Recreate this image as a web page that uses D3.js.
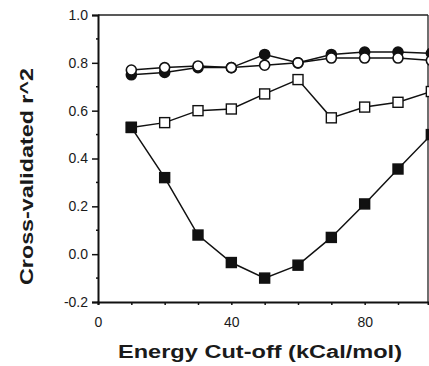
<!DOCTYPE html>
<html>
<head>
<meta charset="utf-8">
<script src="https://cdn.jsdelivr.net/npm/d3@7"></script>
<style>
  body { margin: 0; background: #fff; }
  text { font-family: "Liberation Sans", Arial, sans-serif; fill: #1a1a1a; }
</style>
</head>
<body>
<svg id="chart"></svg>
<script>
// energy cut-off values (kCal/mol)
const cutoffs = [10, 20, 30, 40, 50, 60, 70, 80, 90, 100];
// cross-validated r^2 for each series
const filledCircles = [0.75, 0.76, 0.78, 0.78, 0.835, 0.80, 0.835, 0.845, 0.845, 0.84];
const openCircles = [0.77, 0.78, 0.787, 0.78, 0.79, 0.80, 0.82, 0.82, 0.82, 0.81];
const openSquares = [0.53, 0.55, 0.60, 0.607, 0.67, 0.73, 0.57, 0.615, 0.635, 0.68];
const filledSquares = [0.53, 0.32, 0.08, -0.035, -0.10, -0.046, 0.07, 0.21, 0.356, 0.50];
const yTicks = [-0.2, 0.0, 0.2, 0.4, 0.6, 0.8, 1.0];
const xTickLabels = [0, 40, 80];

const svgWidth = 429, svgHeight = 366;
const svg = d3.select("#chart").attr("width", svgWidth).attr("height", svgHeight);

const x = d3.scaleLinear().domain([0, 99]).range([98, 428]);
const y = d3.scaleLinear().domain([-0.2, 1.0]).range([302, 15]);

// frame top and right
svg.append("line")
    .attr("x1", x(0)).attr("x2", x(99))
    .attr("y1", y(1.0)).attr("y2", y(1.0))
    .attr("stroke", "#222").attr("stroke-width", 1.3);
svg.append("line")
    .attr("x1", x(99)).attr("x2", x(99))
    .attr("y1", y(1.0)).attr("y2", y(-0.2))
    .attr("stroke", "#222").attr("stroke-width", 1.3);

// y axis (hyphen for minus, like the original)
const fmt = d => d3.format(".1f")(d).replace("−", "-");
const yAxis = svg.append("g")
    .attr("transform", "translate(" + x(0) + ",0)")
    .call(d3.axisLeft(y).tickValues(yTicks).tickSize(6).tickPadding(4).tickFormat(fmt));
yAxis.select(".domain").attr("stroke", "#111").attr("stroke-width", 2);
yAxis.selectAll(".tick line").attr("stroke", "#111").attr("stroke-width", 1.5);
yAxis.selectAll("text").style("font-size", "14px").attr("fill", "#1a1a1a");
// minor y ticks
svg.append("g").selectAll("line")
    .data(d3.range(-0.1, 1.0, 0.2))
    .join("line")
    .attr("x1", x(0) - 2).attr("x2", x(0) + 1)
    .attr("y1", d => y(d)).attr("y2", d => y(d))
    .attr("stroke", "#111").attr("stroke-width", 1.5);

// x axis
const xAxis = svg.append("g")
    .attr("transform", "translate(0," + y(-0.2) + ")")
    .call(d3.axisBottom(x).tickValues(d3.range(0, 100, 10)).tickSize(3).tickPadding(12)
        .tickFormat(d => xTickLabels.includes(d) ? d : ""));
xAxis.select(".domain").attr("stroke", "#111").attr("stroke-width", 2);
xAxis.selectAll(".tick line").attr("stroke", "#111").attr("stroke-width", 1.5);
xAxis.selectAll("text").style("font-size", "14px").attr("fill", "#1a1a1a");

// axis titles
svg.append("text")
    .attr("x", 118).attr("y", 358)
    .attr("textLength", 284).attr("lengthAdjust", "spacingAndGlyphs")
    .style("font-size", "18px").style("font-weight", "bold")
    .text("Energy Cut-off (kCal/mol)");
svg.append("text")
    .attr("transform", "translate(33,285) rotate(-90)")
    .attr("textLength", 217).attr("lengthAdjust", "spacingAndGlyphs")
    .style("font-size", "18px").style("font-weight", "bold")
    .text("Cross-validated r^2");

const line = d3.line()
    .x(d => x(d[0]))
    .y(d => y(d[1]));

function drawSeries(values, shape, fill) {
    const pts = cutoffs.map((c, i) => [c, values[i]]);
    svg.append("path")
        .datum(pts)
        .attr("fill", "none")
        .attr("stroke", "#111")
        .attr("stroke-width", 1.5)
        .attr("d", line);
    const g = svg.append("g");
    if (shape === "circle") {
        g.selectAll("circle").data(pts).join("circle")
            .attr("cx", d => x(d[0])).attr("cy", d => y(d[1]))
            .attr("r", 5)
            .attr("fill", fill).attr("stroke", "#111").attr("stroke-width", 1.6);
    } else {
        g.selectAll("rect").data(pts).join("rect")
            .attr("x", d => x(d[0]) - 5).attr("y", d => y(d[1]) - 5)
            .attr("width", 10).attr("height", 10)
            .attr("fill", fill).attr("stroke", "#111").attr("stroke-width", 1.4);
    }
}

drawSeries(openSquares, "square", "#fff");
drawSeries(filledSquares, "square", "#111");
drawSeries(filledCircles, "circle", "#111");
drawSeries(openCircles, "circle", "#fff");
</script>
</body>
</html>
